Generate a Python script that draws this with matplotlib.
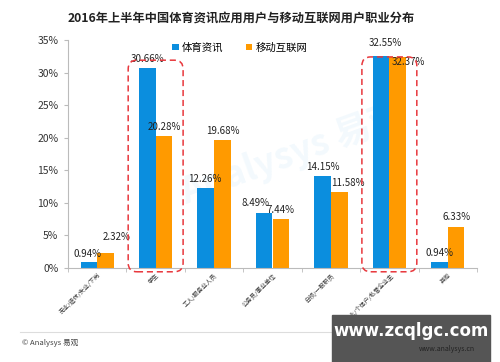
import matplotlib
matplotlib.use("Agg")
import matplotlib.pyplot as plt
import numpy as np
from matplotlib.patches import FancyBboxPatch, Rectangle

plt.rcParams['font.family'] = ['Noto Sans CJK SC', 'DejaVu Sans']

# data
categories = ['无业/退休/失业/下岗', '学生', '工人/服务业人员', '公务员/事业单位',
              '白领/一般职员', '自由职业/个体户/私营企业主', '其他']
sports_news = [0.94, 30.66, 12.26, 8.49, 14.15, 32.55, 0.94]
mobile_net = [2.32, 20.28, 19.68, 7.44, 11.58, 32.37, 6.33]
series_names = ['体育资讯', '移动互联网']
highlight = [1, 5]

blue = '#0B8EDE'
orange = '#FF9A00'

fig = plt.figure(figsize=(5.0, 3.62), dpi=100)
ax = fig.add_axes([0.136, 0.26, 0.818, 0.6295])

x = np.arange(len(categories))
w = 0.285
b1 = ax.bar(x - w / 2, sports_news, w, color=blue, label=series_names[0], zorder=2)
b2 = ax.bar(x + w / 2, mobile_net, w, color=orange, label=series_names[1], zorder=2)

# value labels (small manual nudges like the original)
off1 = [(-1, 2), (0, 3), (-1, 3), (-6, 3), (0, 3), (3, 6), (0, 3)]
off2 = [(8, 8), (0, 3), (0, 3), (0, 3), (6, 3), (8, -7), (0, 3)]
for bars, vals, offs in [(b1, sports_news, off1), (b2, mobile_net, off2)]:
    for r, v, (dx, dy) in zip(bars, vals, offs):
        ax.annotate(f'{v:.2f}%', (r.get_x() + r.get_width() / 2, v),
                    xytext=(dx, dy), textcoords='offset points',
                    ha='center', va='bottom', fontsize=7, color='#222222')

ax.set_xlim(-0.5, len(categories) - 0.5)
ax.set_ylim(0, 35)
ax.set_yticks(np.arange(0, 36, 5))
ax.set_yticklabels([f'{t}%' for t in range(0, 36, 5)], fontsize=7.5, color='#333333')
ax.set_xticks(x)
ax.set_xticklabels(categories, rotation=45, ha='right', va='top',
                   rotation_mode='anchor', fontsize=4.3, color='#333333')
ax.tick_params(axis='x', length=0, pad=3)
ax.set_xticks(np.arange(-0.5, len(categories), 1), minor=True)
ax.tick_params(axis='x', which='minor', length=3, color='#BBBBBB')
ax.tick_params(axis='y', length=3, color='#BBBBBB', pad=4)
for s in ['top', 'right']:
    ax.spines[s].set_visible(False)
ax.spines['left'].set_color('#BBBBBB')
ax.spines['bottom'].set_color('#BBBBBB')

# red dashed rounded boxes
for i, top in zip(highlight, [31.9, 32.4]):
    box = FancyBboxPatch((i - 0.47, -0.6), 0.94, top + 0.6,
                         boxstyle='round,pad=0,rounding_size=0.15',
                         mutation_aspect=9.0, fill=False, ec='#E8373C',
                         ls=(0, (4, 2.5)), lw=1.1, clip_on=False, zorder=3)
    ax.add_patch(box)

ax.legend(loc='upper center', bbox_to_anchor=(0.42, 1.03), ncol=2, frameon=False,
          fontsize=7.5, handlelength=0.6, handleheight=0.6, handletextpad=0.3,
          columnspacing=2.2)

fig.text(0.482, 0.95, '2016年上半年中国体育资讯应用用户与移动互联网用户职业分布',
         ha='center', va='center', fontsize=8.8, fontweight='bold', color='#222222')

# watermark
ax.text(0.55, 0.5, 'Analysys 易观', transform=ax.transAxes, fontsize=26,
        color='#0B8EDE', alpha=0.05, rotation=20, ha='center', va='center',
        fontweight='bold', zorder=1)

# footer
fig.add_artist(plt.Line2D([0.04, 0.96], [0.083, 0.083], color='#DDDDDD', lw=0.8))
fig.text(0.044, 0.052, '© Analysys 易观', fontsize=5.5, color='#444444', va='center')
fig.add_artist(Rectangle((0.664, 0.0), 0.316, 0.13, transform=fig.transFigure,
                         color='#555555', zorder=5))
fig.text(0.822, 0.085, 'www.zcqlgc.com', fontsize=12, fontweight='bold', color='white',
         ha='center', va='center', zorder=6, family='DejaVu Sans')
fig.text(0.95, 0.035, 'www.analysys.cn', fontsize=5, color='#222222', va='center',
         ha='right', zorder=6)

fig.savefig('out.png', dpi=100)
